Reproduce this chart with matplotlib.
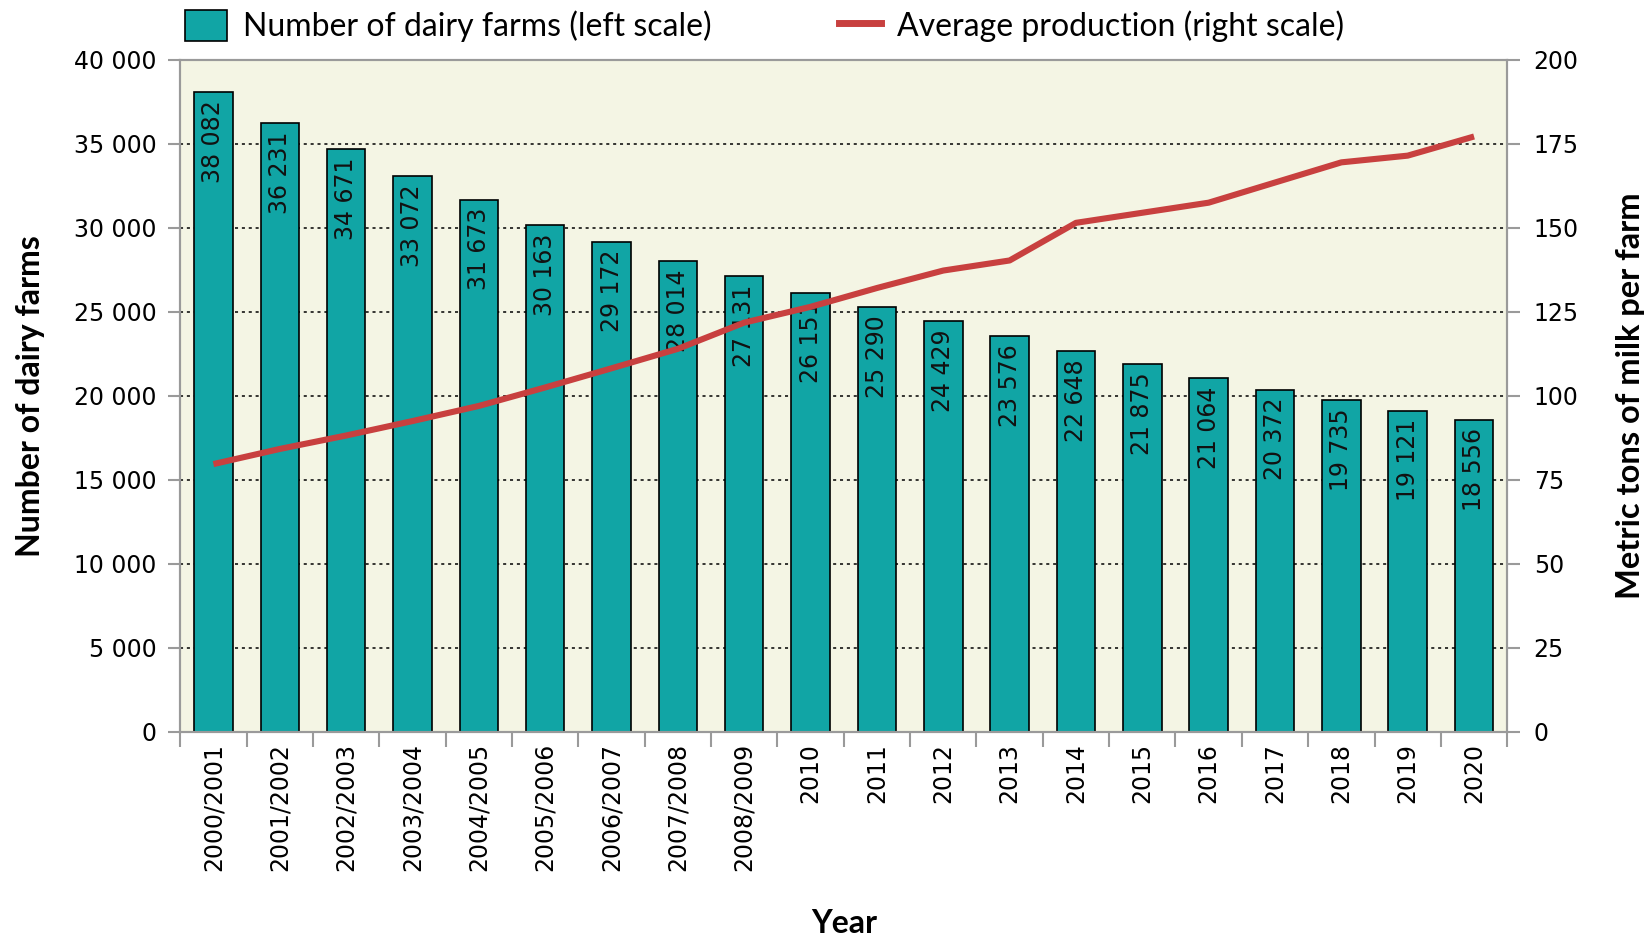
import matplotlib.pyplot as plt
from matplotlib.patches import Patch
from matplotlib.lines import Line2D
from matplotlib.ticker import FuncFormatter, MultipleLocator
import numpy as np

# data
years = ["2000/2001", "2001/2002", "2002/2003", "2003/2004", "2004/2005",
         "2005/2006", "2006/2007", "2007/2008", "2008/2009", "2010",
         "2011", "2012", "2013", "2014", "2015", "2016", "2017", "2018",
         "2019", "2020"]
farms = [38082, 36231, 34671, 33072, 31673, 30163, 29172, 28014, 27131, 26151,
         25290, 24429, 23576, 22648, 21875, 21064, 20372, 19735, 19121, 18556]
avg_prod = [79.7, 84.2, 88.2, 92.5, 97.0, 102.5, 108.2, 114.0, 121.8, 126.5,
            132.1, 137.3, 140.3, 151.5, 154.5, 157.5, 163.5, 169.5, 171.5, 177.2]

bar_col = "#11a5a5"
line_col = "#c8403f"
bg_col = "#f4f5e4"
spine_col = "#9a9a9a"


def space_thousands(v, pos=None):
    return f"{int(round(v)):,}".replace(",", " ")


fig = plt.figure(figsize=(16.46, 9.43), dpi=100)
ax = fig.add_axes([0.1095, 0.2239, 0.8062, 0.7126])
ax.set_facecolor(bg_col)

x = np.arange(len(years))
ax.bar(x, farms, width=0.58, color=bar_col, edgecolor="black", linewidth=1.2, zorder=2)

for xi, v in zip(x, farms):
    ax.annotate(space_thousands(v), (xi, v), xytext=(0, -6), textcoords="offset points",
                rotation=90, ha="center", va="top", fontsize=17, color="#111111", zorder=3)

ax.set_xlim(-0.5, len(years) - 0.5)
ax.set_ylim(0, 40000)
ax.yaxis.set_major_locator(MultipleLocator(5000))
ax.yaxis.set_major_formatter(FuncFormatter(space_thousands))
ax.grid(axis="y", color="black", linestyle=(0, (2, 2.5)), linewidth=1.1, zorder=1)

ax.set_xticks(x)
ax.set_xticklabels(years, rotation=90, fontsize=17)
ax.set_xticks(np.arange(-0.5, len(years)), minor=True)
ax.tick_params(axis="x", which="major", length=0, pad=8)
ax.tick_params(axis="x", which="minor", length=11, width=1.5, color=spine_col)
ax.tick_params(axis="y", length=9, width=1.5, color=spine_col, labelsize=17, pad=8)

for s in ax.spines.values():
    s.set_color(spine_col)
    s.set_linewidth(1.5)

ax.set_ylabel("Number of dairy farms", fontsize=23, fontweight="bold",
              family="Lato", labelpad=21)
ax.set_xlabel("Year", fontsize=23, fontweight="bold", family="Lato", labelpad=27)

ax2 = ax.twinx()
ax2.plot(x, avg_prod, color=line_col, linewidth=4.4, solid_capstyle="butt", zorder=4)
ax2.set_ylim(0, 200)
ax2.yaxis.set_major_locator(MultipleLocator(25))
ax2.tick_params(axis="y", length=9, width=1.5, color=spine_col, labelsize=17, pad=10)
for s in ax2.spines.values():
    s.set_color(spine_col)
    s.set_linewidth(1.5)
ax2.set_ylabel("Metric tons of milk per farm", fontsize=23.5, fontweight="bold",
               family="Lato", labelpad=27)

handles = [Patch(facecolor=bar_col, edgecolor="black", linewidth=1.2),
           Line2D([0], [0], color=line_col, linewidth=5)]
labels = ["Number of dairy farms (left scale)", "Average production (right scale)"]
fig.legend(handles, labels, loc="upper left", bbox_to_anchor=(0.095, 1.02), ncol=2,
           frameon=False, prop={"family": "Lato", "size": 23},
           handlelength=1.3, handleheight=1.1, columnspacing=4.0, handletextpad=0.5)

fig.savefig("out.png", dpi=100)
